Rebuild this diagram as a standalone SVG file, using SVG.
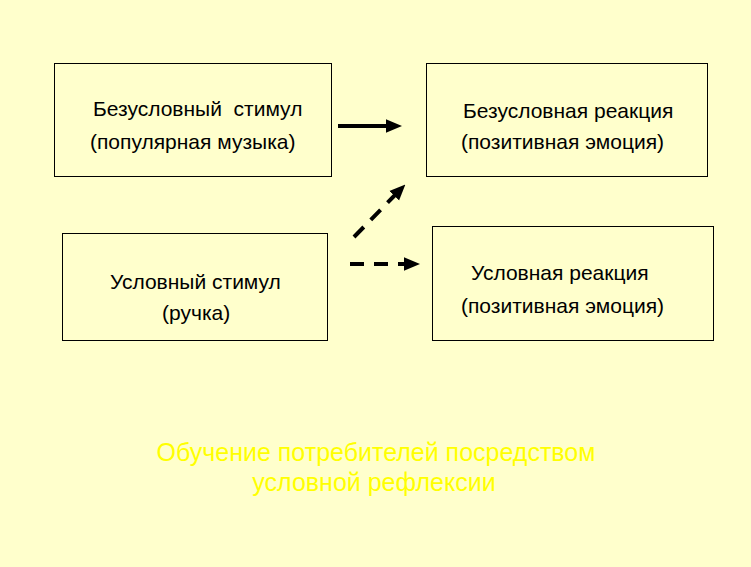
<svg xmlns="http://www.w3.org/2000/svg" width="751" height="567" viewBox="0 0 751 567">
<defs>
<style>
.box{fill:#FFFFCC;stroke:#000;stroke-width:1}
.t{font-family:"Liberation Sans",Arial,sans-serif;font-size:21px;fill:#000;white-space:pre}
.title{font-family:"Liberation Sans",Arial,sans-serif;font-size:25px;fill:#FFFF00}
.c{stroke:#000;stroke-width:4;fill:none}
.d{stroke-dasharray:14,10}
</style>
<marker id="ah" markerWidth="4" markerHeight="4" refX="1" refY="2" orient="auto" markerUnits="strokeWidth">
<path d="M0,0.3 L4,2 L0,3.7 z" fill="#000"/>
</marker>
</defs>
<rect width="751" height="567" fill="#FFFFCC"/>
<g id="n1"><rect class="box" x="54.5" y="63.5" width="277" height="113"/>
<text class="t" x="93" y="116" xml:space="preserve">Безусловный  стимул</text>
<text class="t" x="90" y="149">(популярная музыка)</text></g>
<g id="n2"><rect class="box" x="426.5" y="63.5" width="281" height="113"/>
<text class="t" x="463" y="118">Безусловная реакция</text>
<text class="t" x="461" y="149">(позитивная эмоция)</text></g>
<g id="n3"><rect class="box" x="62.5" y="233.5" width="265" height="107"/>
<text class="t" x="110" y="289">Условный стимул</text>
<text class="t" x="162" y="320">(ручка)</text></g>
<g id="n4"><rect class="box" x="432.5" y="226.5" width="281" height="114"/>
<text class="t" x="471" y="280">Условная реакция</text>
<text class="t" x="461" y="313">(позитивная эмоция)</text></g>
<g id="connectors">
<line class="c" x1="338" y1="126" x2="390" y2="126" marker-end="url(#ah)"/>
<line class="c d" x1="354" y1="237" x2="397" y2="193" marker-end="url(#ah)"/>
<line class="c d" x1="350" y1="264" x2="408" y2="264" marker-end="url(#ah)"/>
</g>
<text class="title" x="376" y="461" text-anchor="middle">Обучение потребителей посредством</text>
<text class="title" x="374" y="491" text-anchor="middle">условной рефлексии</text>
</svg>
